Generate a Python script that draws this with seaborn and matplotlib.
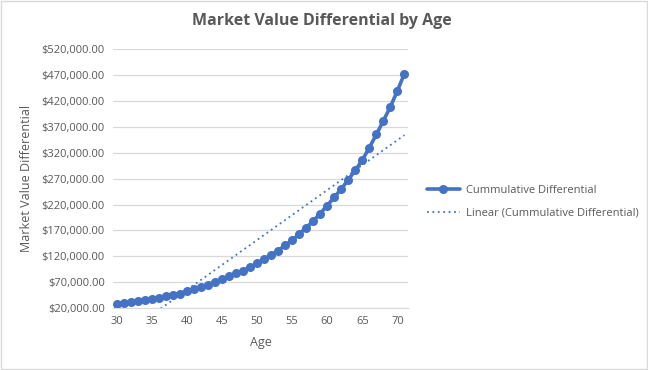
import seaborn as sns
import pandas as pd
import matplotlib.pyplot as plt
from matplotlib.ticker import FuncFormatter, MultipleLocator
from matplotlib.patches import Rectangle

ages = list(range(30, 72))
cumulative = [27700, 30000, 32000, 34000, 35500, 38000, 40000, 42500, 45700, 48000,
              52000, 56000, 61000, 65000, 70000, 76000, 81000, 87000, 92000, 98500,
              106000, 114000, 122500, 131000, 141000, 150700, 163000, 175000, 188000, 202600,
              218000, 234000, 250000, 268000, 286000, 306000, 330000, 355500, 382000, 409000,
              440000, 473000]
yticks = list(range(20000, 520001, 50000))

df = pd.DataFrame({'Age': ages, 'Cummulative Differential': cumulative})

sns.set_style('white')
plt.rcParams['font.family'] = ['Open Sans', 'DejaVu Sans']

blue = '#4472C4'
grey = '#595959'

fig = plt.figure(figsize=(6.48, 3.70), dpi=100)
ax = fig.add_axes([0.1744, 0.1676, 0.4552, 0.6992])

sns.regplot(x='Age', y='Cummulative Differential', data=df, scatter=False, ci=None,
            truncate=True, ax=ax, label='Linear (Cummulative Differential)',
            line_kws=dict(color=blue, lw=1.3, ls=(0, (1, 2))))
sns.lineplot(x='Age', y='Cummulative Differential', data=df, ax=ax, color=blue,
             lw=2.6, marker='o', markersize=6.5, markeredgewidth=0,
             label='Cummulative Differential')

ax.set_xlim(29.5, 71.5)
ax.set_ylim(20000, 520000)
ax.set_yticks(yticks)
ax.xaxis.set_major_locator(MultipleLocator(5))
ax.yaxis.set_major_formatter(FuncFormatter(lambda v, p: f'${v:,.2f}'))
ax.grid(axis='y', color='#d9d9d9', lw=0.9)
ax.set_axisbelow(True)
for s in ['top', 'right', 'left']:
    ax.spines[s].set_visible(False)
ax.spines['bottom'].set_color('#d9d9d9')
ax.tick_params(axis='both', length=0, labelsize=8, labelcolor=grey, pad=6)

ax.set_xlabel('Age', fontsize=9, color=grey, labelpad=6)
ax.set_ylabel('Market Value Differential', fontsize=9, color=grey, labelpad=6)
fig.text(0.497, 0.943, 'Market Value Differential by Age', ha='center', va='center',
         fontsize=11.5, fontweight='bold', color=grey)

h, l = ax.get_legend_handles_labels()
h, l = h[::-1], l[::-1]
leg = ax.legend(h, l, loc='center left',
                bbox_to_anchor=(1.03, 0.41), frameon=False, fontsize=8,
                handlelength=3, labelspacing=1.0, handletextpad=0.5)
for t in leg.get_texts():
    t.set_color(grey)

fig.patches.append(Rectangle((0.001, 0.002), 0.997, 0.995, transform=fig.transFigure,
                             fill=False, edgecolor='#d9d9d9', lw=1))

fig.savefig('out.png', dpi=100)
